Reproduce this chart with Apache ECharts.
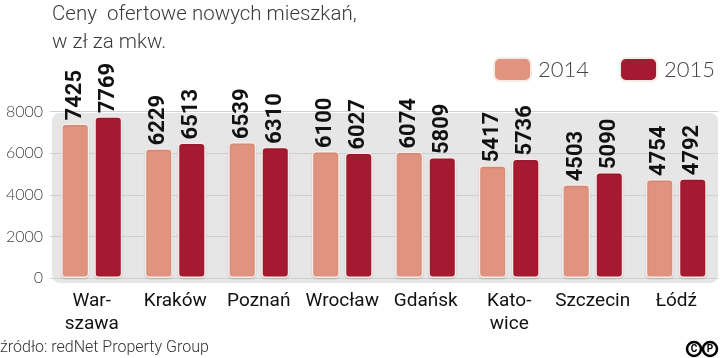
<!DOCTYPE html>
<html><head><meta charset="utf-8">
<script src="https://cdn.jsdelivr.net/npm/echarts@6/dist/echarts.min.js"></script>
<style>html,body{margin:0;padding:0;background:#fff}#c{width:720px;height:358px}</style>
</head><body><div id="c"></div>
<script>
const categories = ['War-\nszawa', 'Kraków', 'Poznań', 'Wrocław', 'Gdańsk', 'Kato-\nwice', 'Szczecin', 'Łódź'];
const values2014 = [7425, 6229, 6539, 6100, 6074, 5417, 4503, 4754];
const values2015 = [7769, 6513, 6310, 6027, 5809, 5736, 5090, 4792];
const yTicks = [0, 2000, 4000, 6000, 8000];
const seriesNames = ['2014', '2015'];
const colors = ['#e0937f', '#a51a30'];
const titleLines = ['Ceny  ofertowe nowych mieszkań,', 'w zł za mkw.'];
const sourceText = 'źródło: redNet Property Group';

const chart = echarts.init(document.getElementById('c'), null, {renderer: 'canvas'});
const labelStyle = {
  show: true, position: 'top', rotate: 90, align: 'left', verticalAlign: 'middle',
  distance: 6, offset: [-3, 0], fontFamily: 'Roboto', fontWeight: 'bold', fontSize: 22, color: '#111'
};
const barStyle = (c) => ({
  color: c, borderColor: '#f7ece8', borderWidth: 1.5, borderRadius: 4,
  shadowColor: 'rgba(0,0,0,0.12)', shadowBlur: 2, shadowOffsetY: 1
});
chart.setOption({
  animation: false,
  textStyle: {fontFamily: 'Roboto'},
  title: {
    text: titleLines.join('\n'), left: 52, top: 1, padding: 0,
    textStyle: {fontFamily: 'Roboto', fontWeight: 300, fontSize: 20.5, lineHeight: 28, color: '#3a3a3a'}
  },
  legend: {
    data: seriesNames, left: 493, top: 57, padding: 0, itemWidth: 37, itemHeight: 23, itemGap: 30,
    icon: 'roundRect',
    textStyle: {fontFamily: 'Lato', fontWeight: 300, fontSize: 22, color: '#444', padding: [0, 0, 0, 2]}
  },
  graphic: [
    {type: 'rect', z: -10, shape: {x: 52, y: 113, width: 666, height: 170, r: 8},
     style: {fill: '#e6e6e6'}},
    {type: 'text', left: 0, top: 340, style: {text: sourceText, font: '300 16px Roboto', fill: '#333'}},
    {type: 'circle', shape: {cx: 694, cy: 349, r: 7}, style: {fill: '#fff', stroke: '#000', lineWidth: 2.5}},
    {type: 'circle', shape: {cx: 710, cy: 349, r: 7}, style: {fill: '#fff', stroke: '#000', lineWidth: 2.5}},
    {type: 'text', x: 694, y: 349, style: {text: 'C', font: 'bold 10px Roboto', fill: '#000', align: 'center', verticalAlign: 'middle'}},
    {type: 'text', x: 710, y: 349, style: {text: 'P', font: 'bold 10px Roboto', fill: '#000', align: 'center', verticalAlign: 'middle'}}
  ],
  grid: {left: 50, right: 2, top: 111.5, bottom: 80, containLabel: false},
  xAxis: {
    type: 'category', data: categories,
    axisLine: {show: false}, axisTick: {show: false},
    axisLabel: {interval: 0, margin: 12, fontFamily: 'Roboto', fontSize: 19, lineHeight: 23, color: '#111'}
  },
  yAxis: {
    type: 'value', min: yTicks[0], max: yTicks[yTicks.length - 1], interval: 2000,
    axisLine: {show: false}, axisTick: {show: false},
    splitLine: {lineStyle: {color: '#cfcfcf', width: 1}},
    axisLabel: {margin: 7, fontFamily: 'Lato', fontWeight: 300, fontSize: 16, color: '#444',
      formatter: (v) => String(v)}
  },
  series: [
    {name: seriesNames[0], type: 'bar', data: values2014, barWidth: 28, barGap: '18%',
     itemStyle: barStyle(colors[0]), label: labelStyle},
    {name: seriesNames[1], type: 'bar', data: values2015, barWidth: 28,
     itemStyle: barStyle(colors[1]), label: labelStyle}
  ]
});
</script></body></html>
